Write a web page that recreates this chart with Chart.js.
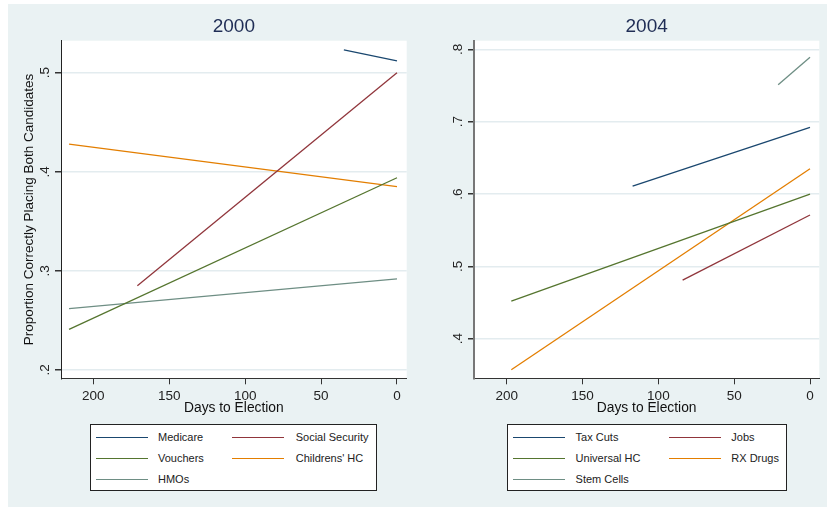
<!DOCTYPE html>
<html>
<head>
<meta charset="UTF-8">
<script src="https://cdn.jsdelivr.net/npm/chart.js"></script>
<style>
  body { margin: 0; background: #ffffff; font-family: 'Liberation Sans', Arial, sans-serif; }
  #page { position: relative; width: 827px; height: 507px; overflow: hidden; }
  #bg { position: absolute; left: 8px; top: 4px; width: 819px; height: 503px; background: #eaf2f3; }
  canvas { position: absolute; top: 0; }
  .legend { position: absolute; top: 424px; height: 67px; background: #fff; border: 1px solid #222; box-sizing: border-box; }
  .legend .ln { position: absolute; height: 1px; width: 52px; }
  .legend .tx { position: absolute; font-size: 11px; color: #222; line-height: 14px; white-space: nowrap; }
</style>
</head>
<body>
<div id="page">
  <div id="bg"></div>
  <canvas id="c2000" width="413" height="420" style="left:0px"></canvas>
  <canvas id="c2004" width="414" height="420" style="left:413px"></canvas>
  <div class="legend" id="leg2000" style="left:90px;width:287px"></div>
  <div class="legend" id="leg2004" style="left:507px;width:280px"></div>
</div>
<script>
// series colours (Stata s2color order)
const colors = ['#1a476f', '#90353b', '#55752f', '#e37e00', '#6e8e84'];

// 2000 panel
const issues2000 = ['Medicare', 'Social Security', 'Vouchers', "Childrens' HC", 'HMOs'];
const startDay2000 = [35, 171, 216, 216, 216];
const startVal2000 = [0.523, 0.285, 0.241, 0.428, 0.262];
const endDay2000 = [0, 0, 0, 0, 0];
const endVal2000 = [0.512, 0.500, 0.394, 0.385, 0.292];
const yTicks2000 = [0.2, 0.3, 0.4, 0.5];
const yLabels2000 = ['.2', '.3', '.4', '.5'];

// 2004 panel
const issues2004 = ['Tax Cuts', 'Jobs', 'Universal HC', 'RX Drugs', 'Stem Cells'];
const startDay2004 = [117, 84, 197, 197, 21];
const startVal2004 = [0.611, 0.481, 0.452, 0.357, 0.751];
const endDay2004 = [0, 0, 0, 0, 0];
const endVal2004 = [0.692, 0.571, 0.600, 0.635, 0.789];
const yTicks2004 = [0.4, 0.5, 0.6, 0.7, 0.8];
const yLabels2004 = ['.4', '.5', '.6', '.7', '.8'];

const xTicks = [0, 50, 100, 150, 200];
const xTitle = 'Days to Election';
const yTitle = 'Proportion Correctly Placing Both Candidates';

const FONT = "'Liberation Sans', Arial, sans-serif";

const panelPlugin = {
  id: 'panel',
  beforeDraw(chart, args, opts) {
    const { ctx, chartArea: a } = chart;
    ctx.save();
    ctx.fillStyle = '#ffffff';
    ctx.fillRect(a.left, a.top, a.right - a.left, a.bottom - a.top);
    ctx.restore();
  },
  afterDraw(chart, args, opts) {
    const { ctx, chartArea: a } = chart;
    const ys = chart.scales.y;
    ctx.save();
    ctx.fillStyle = '#1f2d55';
    ctx.font = '19px ' + FONT;
    ctx.textAlign = 'center';
    ctx.textBaseline = 'middle';
    ctx.fillText(opts.title, (a.left + a.right) / 2, 27);
    ctx.fillStyle = '#222';
    ctx.font = '13.5px ' + FONT;
    opts.ticks.forEach((v, i) => {
      const y = ys.getPixelForValue(v);
      ctx.save();
      ctx.translate(a.left - 15.5, y);
      ctx.rotate(-Math.PI / 2);
      ctx.fillText(opts.labels[i], 0, 0);
      ctx.restore();
    });
    ctx.restore();
  }
};

function makeChart(id, title, issues, sDay, sVal, eDay, eVal, yTicks, yLabels, yMin, yMax, xMin, xMax, padRight, yBorder, showYTitle) {
  const datasets = issues.map((name, i) => ({
    label: name,
    data: [{ x: sDay[i], y: sVal[i] }, { x: eDay[i], y: eVal[i] }],
    borderColor: colors[i],
    borderWidth: 1.3,
    pointRadius: 0,
    fill: false
  }));
  return new Chart(document.getElementById(id), {
    type: 'line',
    data: { datasets },
    plugins: [panelPlugin],
    options: {
      responsive: false,
      animation: false,
      layout: { padding: { left: 0, right: padRight, top: 40.7, bottom: 0 } },
      plugins: {
        legend: { display: false },
        tooltip: { enabled: false },
        panel: { title, ticks: yTicks, labels: yLabels }
      },
      scales: {
        x: {
          type: 'linear', reverse: true, min: xMin, max: xMax,
          afterBuildTicks: s => { s.ticks = xTicks.map(v => ({ value: v })); },
          afterFit: s => { s.height = 41.7; },
          grid: { drawOnChartArea: false, drawTicks: true, tickLength: 6, tickColor: '#333' },
          border: { display: true, color: '#333', width: 1 },
          ticks: { color: '#222', font: { family: FONT, size: 13.5 }, padding: 3.5, maxRotation: 0, callback: v => String(v) },
          title: { display: true, text: xTitle, color: '#111', font: { family: FONT, size: 13.8 }, padding: { top: 0, bottom: 3.2 } }
        },
        y: {
          type: 'linear', min: yMin, max: yMax,
          afterBuildTicks: s => { s.ticks = yTicks.map(v => ({ value: v })); },
          afterFit: s => { s.width = 61; },
          grid: { color: '#e3ecef', lineWidth: 1.5, drawTicks: true, tickLength: 6, tickColor: '#333' },
          border: { display: true, color: yBorder.color, width: yBorder.width },
          ticks: { display: false },
          title: { display: showYTitle, text: yTitle, color: '#111', font: { family: FONT, size: 13.5 }, padding: { top: 21.4, bottom: 0 } }
        }
      }
    }
  });
}

makeChart('c2000', '2000', issues2000, startDay2000, startVal2000, endDay2000, endVal2000,
  yTicks2000, yLabels2000, 0.1916, 0.5323, -6.39, 221.3, 6.3, { color: '#222', width: 1 }, true);
makeChart('c2004', '2004', issues2004, startDay2004, startVal2004, endDay2004, endVal2004,
  yTicks2004, yLabels2004, 0.3453, 0.8119, -6.13, 221.6, 7.7, { color: '#777', width: 2 }, false);

function buildLegend(id, issues, lineX, textX) {
  const box = document.getElementById(id);
  const rowY = [12.7, 33.7, 55];
  issues.forEach((name, i) => {
    const row = Math.floor(i / 2), col = i % 2;
    const ln = document.createElement('div');
    ln.className = 'ln';
    ln.style.left = (lineX[col] - 1) + 'px';
    ln.style.top = Math.round(rowY[row] - 1) + 'px';
    ln.style.backgroundColor = colors[i];
    box.appendChild(ln);
    const tx = document.createElement('div');
    tx.className = 'tx';
    tx.textContent = name;
    tx.style.left = (textX[col] - 1) + 'px';
    tx.style.top = (rowY[row] - 8) + 'px';
    box.appendChild(tx);
  });
}
buildLegend('leg2000', issues2000, [6, 142.3], [68, 205.7]);
buildLegend('leg2004', issues2004, [5.6, 161.6], [68.6, 224.3]);
</script>
</body>
</html>
